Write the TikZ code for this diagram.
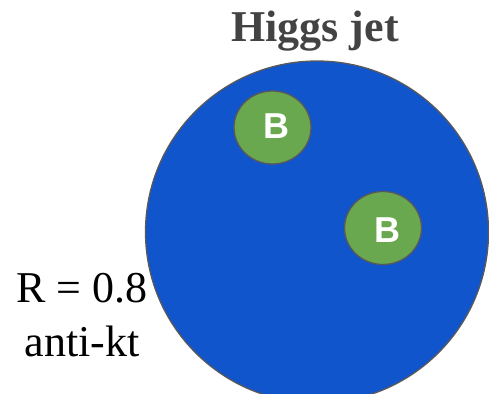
\documentclass[tikz,border=0pt]{standalone}
\usepackage{fontspec}
\setmainfont{Liberation Serif}
\newfontfamily\bfont{Liberation Sans}
\definecolor{jetblue}{HTML}{1155CC}
\definecolor{bgreen}{HTML}{6AA84F}
\definecolor{edgegray}{HTML}{595959}
\definecolor{titlegray}{HTML}{434343}
\begin{document}
\begin{tikzpicture}[x=1pt,y=-1pt,
  jet/.style={fill=jetblue,draw=edgegray,line width=1.3pt},
  bjet/.style={fill=bgreen,draw=edgegray,line width=1.3pt},
  blabel/.style={anchor=base,inner sep=0pt,text=white,font=\bfont\bfseries\fontsize{36}{40}\selectfont},
  label/.style={anchor=base,inner sep=0pt,font=\fontsize{44}{50}\selectfont}]
\useasboundingbox (0,0) rectangle (489,393);
\begin{scope}
\clip (0,0) rectangle (489,393);
\path[jet] (317,232) ellipse [x radius=171.5, y radius=171];
\end{scope}
\path[bjet] (272.5,127.5) ellipse [x radius=38.5, y radius=36.5];
\path[bjet] (383,228) ellipse [x radius=38.5, y radius=36.5];
\node[blabel] (b1) at (276.5,138.5) {B};
\node[blabel] (b2) at (387.5,242) {B};
\node[label,text=titlegray,font=\bfseries\fontsize{44}{50}\selectfont] (title) at (315,42) {Higgs jet};
\node[label] (r) at (82,302) {R = 0.8};
\node[label] (algo) at (82,356) {anti-kt};
\end{tikzpicture}
\end{document}
